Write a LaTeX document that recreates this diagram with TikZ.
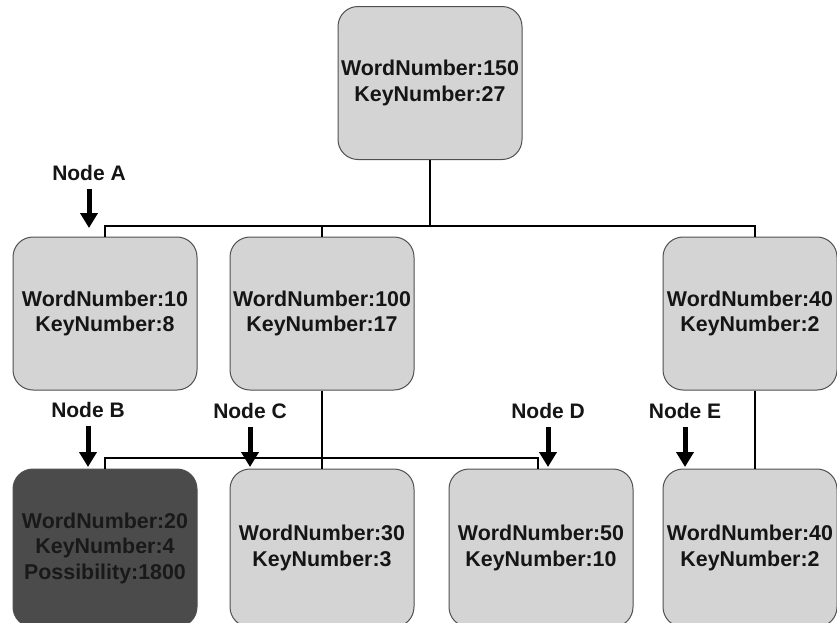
\documentclass[tikz,border=0pt]{standalone}
\usepackage{fontspec}
\setmainfont{Liberation Sans}
\usetikzlibrary{arrows.meta}
\definecolor{boxfill}{HTML}{D4D4D4}
\definecolor{darkfill}{HTML}{4B4B4B}
\definecolor{boxline}{HTML}{505050}
\definecolor{ink}{HTML}{151515}
\begin{document}
\begin{tikzpicture}[x=1pt,y=-1pt,
  box/.style={draw=boxline, line width=1pt, fill=boxfill, rounded corners=20pt,
    minimum width=184pt, minimum height=153pt, inner sep=0pt, align=center,
    font=\fontsize{21.4}{25.5}\selectfont\bfseries, text=ink},
  darkbox/.style={box, fill=darkfill, text=black!90},
  link/.style={line width=2.6pt, black},
  tag/.style={font=\fontsize{21}{24}\selectfont\bfseries, inner sep=0pt, text=ink},
  pointer/.style={line width=5pt, black, -{Triangle[width=17pt,length=15pt]}}]
\useasboundingbox (0,0) rectangle (837,622);
\fill[white] (0,0) rectangle (837,622);

% tree nodes
\node[box] (root) at (430,83) {WordNumber:150\\KeyNumber:27};
\node[box] (n1) at (105,313.5) {WordNumber:10\\KeyNumber:8};
\node[box] (n2) at (322,313.5) {WordNumber:100\\KeyNumber:17};
\node[box, minimum width=174pt] (n3) at (750,313.5) {WordNumber:40\\KeyNumber:2};
\node[darkbox, minimum height=158pt] (b) at (105,548) {WordNumber:20\\KeyNumber:4\\Possibility:1800};
\node[box, minimum height=158pt] (c) at (322,548) {WordNumber:30\\KeyNumber:3};
\node[box, minimum height=158pt] (d) at (541,548) {WordNumber:50\\KeyNumber:10};
\node[box, minimum height=158pt, minimum width=174pt] (e) at (750,548) {WordNumber:40\\KeyNumber:2};

% connector junctions
\coordinate (bus1) at (0,226);
\coordinate (bus2) at (0,458);
\coordinate (j3) at ([xshift=5pt]n3.north);
\coordinate (j3s) at ([xshift=5pt]n3.south);
\coordinate (je) at ([xshift=5pt]e.north);
\coordinate (jd) at ([xshift=-3pt]d.north);

% connectors
\draw[link] (root.south) -- (root.south |- bus1);
\draw[link] (n1.north) -- (n1.north |- bus1) -- (j3 |- bus1) -- (j3);
\draw[link] (n2.north) -- (n2.north |- bus1);
\draw[link] (b.north) -- (b.north |- bus2) -- (jd |- bus2) -- (jd);
\draw[link] (n2.south) -- (c.north);
\draw[link] (j3s) -- (je);

% pointer labels
\node[tag] (ta) at (89,173) {Node A};
\node[tag] (tb) at (88,410) {Node B};
\node[tag] (tc) at (250,411) {Node C};
\node[tag] (td) at (548,411) {Node D};
\node[tag] (te) at (685,411) {Node E};
\coordinate (pa) at (89,228);
\coordinate (pb) at (88,467);
\coordinate (pc) at (250,467);
\coordinate (pd) at (548,467);
\coordinate (pe) at (685,467);
\draw[pointer] ([yshift=-8pt]ta.south) -- (pa);
\draw[pointer] ([yshift=-8.5pt]tb.south) -- (pb);
\draw[pointer] ([yshift=-8.5pt]tc.south) -- (pc);
\draw[pointer] ([yshift=-8.5pt]td.south) -- (pd);
\draw[pointer] ([yshift=-8.5pt]te.south) -- (pe);
\end{tikzpicture}
\end{document}
